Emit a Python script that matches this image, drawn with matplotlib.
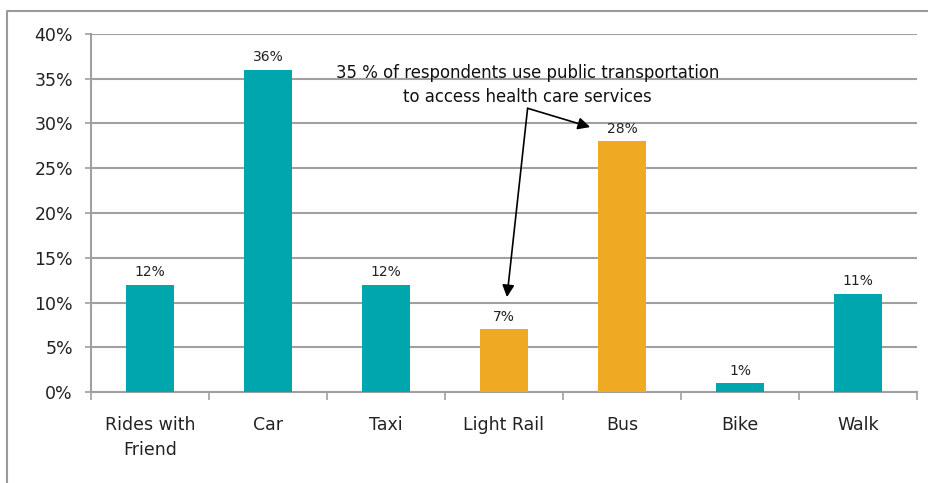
import matplotlib
matplotlib.use("Agg")
import matplotlib.pyplot as plt
from matplotlib.lines import Line2D

categories = ["Rides with\nFriend", "Car", "Taxi", "Light Rail", "Bus", "Bike", "Walk"]
values = [12, 36, 12, 7, 28, 1, 11]
public = [False, False, False, True, True, False, False]
annotation = "35 % of respondents use public transportation\nto access health care services"

teal = "#00A6AD"
orange = "#EFA922"
grid_c = "#A0A0A0"

plt.rcParams['font.family'] = ['DejaVu Sans']

fig = plt.figure(figsize=(9.29, 4.83), dpi=100)
ax = fig.add_axes([91/929, 1-392/483, (917-91)/929, (392-34)/483])

x = list(range(len(categories)))
colors = [orange if p else teal for p in public]
ax.bar(x, values, width=0.41, color=colors, zorder=3)
for xi, v in zip(x, values):
    ax.text(xi, v + 0.6, f"{v}%", ha="center", va="bottom", fontsize=10, color="#222222", zorder=4)

ax.set_xlim(-0.5, len(categories) - 0.5)
ax.set_ylim(0, 40)
ax.set_yticks(range(0, 41, 5))
ax.set_yticklabels([f"{t}%" for t in range(0, 41, 5)], fontsize=12.5, color="#222222")
ax.yaxis.grid(True, color=grid_c, linewidth=1.5, zorder=0)
ax.set_axisbelow(True)
ax.tick_params(axis="y", length=4, color=grid_c, width=1.2, pad=9)

ax.set_xticks(x)
ax.set_xticklabels(categories, fontsize=12.5, color="#222222", linespacing=1.5)
ax.tick_params(axis="x", which="major", length=0, pad=17)
ax.set_xticks([i - 0.5 for i in range(len(categories) + 1)], minor=True)
ax.tick_params(axis="x", which="minor", length=6, color=grid_c, width=1.2)

for s in ["top", "right"]:
    ax.spines[s].set_visible(False)
for s in ["left", "bottom"]:
    ax.spines[s].set_color(grid_c)
    ax.spines[s].set_linewidth(1.5)

# annotation
ax.text(3.2, 34.3, annotation, ha="center", va="center", fontsize=11.9, color="#111111",
        linespacing=1.45, zorder=5)
start = (3.20, 31.7)
ax.annotate("", xy=(3.73, 29.6), xytext=start,
            arrowprops=dict(arrowstyle="-|>", color="black", lw=1.2, mutation_scale=18,
                            shrinkA=0, shrinkB=0), zorder=6)
ax.annotate("", xy=(3.025, 10.6), xytext=start,
            arrowprops=dict(arrowstyle="-|>", color="black", lw=1.2, mutation_scale=18,
                            shrinkA=0, shrinkB=0), zorder=6)

# outer frame (partially visible)
fx = 7/929
fy = 1 - 11/483
fig.add_artist(Line2D([fx, fx, 1.0], [0.0, fy, fy], transform=fig.transFigure,
                      color="#9A9A9A", linewidth=1.5))

fig.savefig("out.png", dpi=100)
